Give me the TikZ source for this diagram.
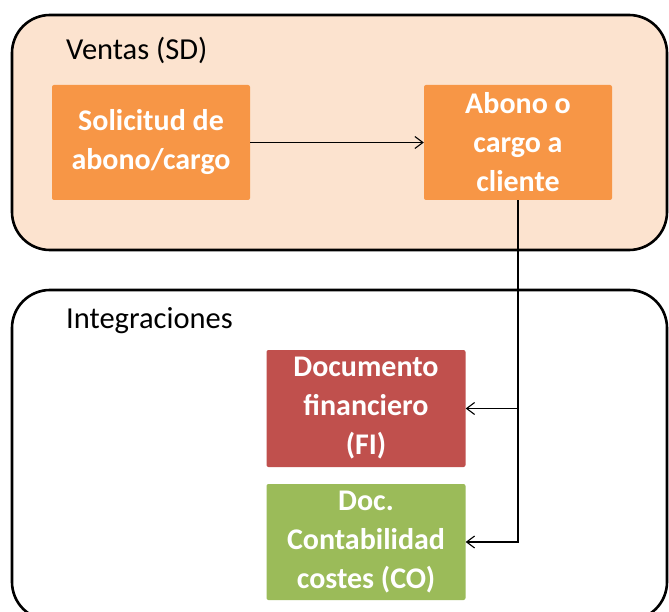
\documentclass[tikz,border=0pt]{standalone}
\usepackage{fontspec}
\setmainfont{Carlito}
\usetikzlibrary{arrows.meta}
\definecolor{peach}{HTML}{FCE3CF}
\definecolor{orangebox}{HTML}{F79646}
\definecolor{redbox}{HTML}{C0504D}
\definecolor{greenbox}{HTML}{9BBB59}
\begin{document}
\begin{tikzpicture}[x=1pt,y=-1pt,
  panel/.style={draw=black, line width=2.6pt, rounded corners=38pt},
  boxnode/.style={draw=none, rounded corners=2pt, text=white, align=center,
    font=\bfseries\fontsize{30}{39}\selectfont, inner sep=0pt},
  titlenode/.style={anchor=base west, inner sep=0pt, font=\fontsize{30.5}{36}\selectfont},
  arr/.style={draw=black, line width=1.1pt, -{Straight Barb[length=8pt,width=12pt,line width=1.1pt]}}]
\useasboundingbox (0,0) rectangle (669,612);
\fill[white] (0,0) rectangle (669,612);
\path[panel, fill=peach] (12,15) rectangle (667,250);
\path[panel] (12,290) rectangle (667,620);
\node[titlenode] (ventas) at (66,60) {Ventas (SD)};
\node[titlenode] (integ) at (66,328) {Integraciones};
\node[boxnode, fill=orangebox, minimum width=198pt, minimum height=115pt] (sol) at (151,142.5) {Solicitud de\\abono/cargo};
\node[boxnode, fill=orangebox, minimum width=188pt, minimum height=115pt] (abo) at (518,142.5) {Abono o\\cargo a\\cliente};
\node[boxnode, fill=redbox, minimum width=199pt, minimum height=117pt] (fi) at (366,408.5) {Documento\\financiero\\(FI)};
\node[boxnode, fill=greenbox, minimum width=199pt, minimum height=116pt] (co) at (366,542) {Doc.\\Contabilidad\\costes (CO)};
\draw[arr] (sol.east) -- (abo.west);
\draw[arr] (abo.south) |- (fi.east);
\draw[arr] (abo.south) |- (co.east);
\end{tikzpicture}
\end{document}
